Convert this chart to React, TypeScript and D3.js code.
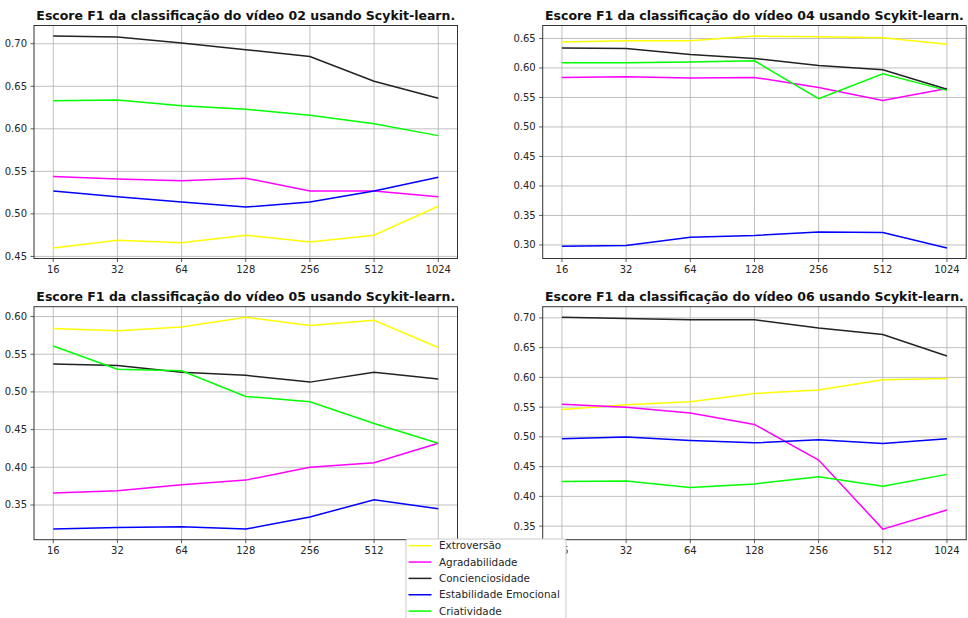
import React from 'react'
import * as d3 from 'd3'

const batchSizes = ['16', '32', '64', '128', '256', '512', '1024']
const traits = ['Extroversão', 'Agradabilidade', 'Concienciosidade', 'Estabilidade Emocional', 'Criatividade']
const traitColors = ['#ffff00', '#ff00ff', '#222222', '#0000ff', '#00ff00']
const videoIds = ['02', '04', '05', '06']

// F1 score per trait (same order as traits), one value per batch size
const video02 = [
  [0.460, 0.469, 0.466, 0.475, 0.467, 0.475, 0.509],
  [0.544, 0.541, 0.539, 0.542, 0.527, 0.527, 0.520],
  [0.709, 0.708, 0.701, 0.693, 0.685, 0.656, 0.636],
  [0.527, 0.520, 0.514, 0.508, 0.514, 0.527, 0.543],
  [0.633, 0.634, 0.627, 0.623, 0.616, 0.606, 0.592],
]
const video04 = [
  [0.644, 0.646, 0.646, 0.654, 0.653, 0.651, 0.640],
  [0.584, 0.585, 0.583, 0.584, 0.567, 0.545, 0.565],
  [0.634, 0.633, 0.623, 0.616, 0.604, 0.597, 0.564],
  [0.298, 0.299, 0.313, 0.316, 0.322, 0.321, 0.295],
  [0.609, 0.609, 0.610, 0.612, 0.548, 0.590, 0.562],
]
const video05 = [
  [0.584, 0.581, 0.586, 0.599, 0.588, 0.595, 0.559],
  [0.366, 0.369, 0.377, 0.383, 0.400, 0.406, 0.432],
  [0.537, 0.535, 0.526, 0.522, 0.513, 0.526, 0.517],
  [0.318, 0.320, 0.321, 0.318, 0.334, 0.357, 0.345],
  [0.561, 0.530, 0.528, 0.494, 0.487, 0.458, 0.432],
]
const video06 = [
  [0.546, 0.554, 0.559, 0.573, 0.579, 0.596, 0.598],
  [0.555, 0.550, 0.540, 0.521, 0.461, 0.345, 0.377],
  [0.701, 0.699, 0.697, 0.697, 0.683, 0.672, 0.636],
  [0.497, 0.500, 0.494, 0.490, 0.495, 0.489, 0.497],
  [0.425, 0.426, 0.415, 0.421, 0.433, 0.417, 0.437],
]

const videoData = [video02, video04, video05, video06]

const W = 968
const H = 618
const axW = 423.5
const axH = 233
const origins = [[34, 25.5], [542.7, 25.5], [34, 306.7], [542.7, 306.7]]
const font = 'DejaVu Sans, sans-serif'
const fmt = d3.format('.2f')

function Panel({ idx }: { idx: number }) {
  const [x0, y0] = origins[idx]
  const series = videoData[idx]
  const all = series.flat()
  const lo = d3.min(all)!
  const hi = d3.max(all)!
  const m = (hi - lo) * 0.05

  const x = d3.scalePoint<string>().domain(batchSizes).range([x0, x0 + axW]).padding(0.3)
  const y = d3.scaleLinear().domain([lo - m, hi + m]).range([y0 + axH, y0])

  const yTicks = d3.range(Math.ceil((lo - m) / 0.05 - 1e-9), Math.floor((hi + m) / 0.05 + 1e-9) + 1).map(k => k * 0.05)

  const line = d3.line<number>()
    .x((_, i) => x(batchSizes[i])!)
    .y(d => y(d))

  return (
    <g>
      {/* grid */}
      <g stroke="#b0b0b0" strokeWidth={0.8}>
        {batchSizes.map(b => (
          <line key={b} x1={x(b)} x2={x(b)} y1={y0} y2={y0 + axH} />
        ))}
        {yTicks.map(t => (
          <line key={t} x1={x0} x2={x0 + axW} y1={y(t)} y2={y(t)} />
        ))}
      </g>
      {/* series */}
      {series.map((s, i) => (
        <path key={traits[i]} d={line(s)!} fill="none" stroke={traitColors[i]} strokeWidth={1.5} />
      ))}
      {/* spines */}
      <rect x={x0} y={y0} width={axW} height={axH} fill="none" stroke="#333" strokeWidth={1} />
      {/* x axis */}
      <g fontFamily={font} fontSize={10} fill="#262626" textAnchor="middle">
        {batchSizes.map(b => (
          <g key={b}>
            <line x1={x(b)} x2={x(b)} y1={y0 + axH} y2={y0 + axH + 3.5} stroke="#333" strokeWidth={0.8} />
            <text x={x(b)} y={y0 + axH + 7} dy="0.76em">{b}</text>
          </g>
        ))}
      </g>
      {/* y axis */}
      <g fontFamily={font} fontSize={10} fill="#262626" textAnchor="end">
        {yTicks.map(t => (
          <g key={t}>
            <line x1={x0 - 3.5} x2={x0} y1={y(t)} y2={y(t)} stroke="#333" strokeWidth={0.8} />
            <text x={x0 - 7} y={y(t)} dy="0.35em">{fmt(t)}</text>
          </g>
        ))}
      </g>
      <text x={x0 + axW / 2} y={y0 - 6} textAnchor="middle" fontFamily={font} fontSize={12.5}
        fontWeight="bold" fill="#111">
        {`Escore F1 da classificação do vídeo ${videoIds[idx]} usando Scykit-learn.`}
      </text>
    </g>
  )
}

function Legend() {
  const lx = 406
  const ly = 539
  return (
    <g fontFamily={font} fontSize={10.4}>
      <rect x={lx} y={ly} width={160} height={84} rx={2} fill="#fff" stroke="#ccc" />
      {traits.map((t, i) => {
        const cy = ly + 6.7 + i * 16.35
        return (
          <g key={t}>
            <line x1={lx + 2.5} x2={lx + 25.5} y1={cy} y2={cy} stroke={traitColors[i]} strokeWidth={1.5} />
            <text x={lx + 33} y={cy} dy="0.35em" fill="#262626">{t}</text>
          </g>
        )
      })}
    </g>
  )
}

export default function App() {
  return (
    <svg width={W} height={H} style={{ position: 'absolute', left: 0, top: 0, background: '#fff' }}>
      {videoIds.map((v, i) => <Panel key={v} idx={i} />)}
      <Legend />
    </svg>
  )
}
